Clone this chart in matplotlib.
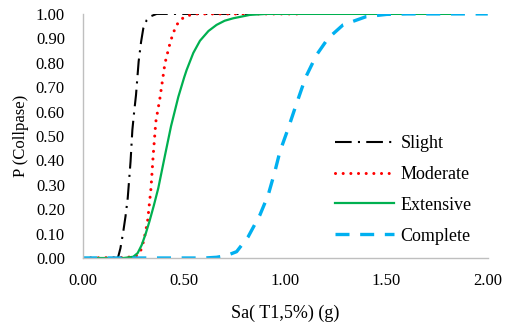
import matplotlib
matplotlib.use("Agg")
import matplotlib.pyplot as plt
from matplotlib.ticker import FormatStrFormatter

# Data
slight_x = [0.00, 0.17, 0.174, 0.185, 0.199, 0.210, 0.221, 0.235, 0.244, 0.253, 0.262,
            0.275, 0.287, 0.298, 0.315, 0.331, 0.364, 0.82]
slight_y = [0.00, 0.00, 0.005, 0.04, 0.108, 0.17, 0.245, 0.395, 0.525, 0.60, 0.668,
            0.805, 0.885, 0.941, 0.975, 0.989, 1.00, 1.00]

moderate_x = [0.00, 0.20, 0.25, 0.27, 0.281, 0.30, 0.319, 0.336, 0.347, 0.360, 0.380,
              0.395, 0.405, 0.430, 0.445, 0.463, 0.485, 0.512, 0.56, 1.09]
moderate_y = [0.00, 0.002, 0.005, 0.012, 0.019, 0.07, 0.149, 0.286, 0.422, 0.559, 0.654,
              0.74, 0.798, 0.88, 0.92, 0.955, 0.978, 0.992, 1.00, 1.00]

extensive_x = [0.00, 0.20, 0.248, 0.270, 0.290, 0.310, 0.328, 0.350, 0.372, 0.405, 0.435,
               0.471, 0.500, 0.512, 0.545, 0.578, 0.620, 0.660, 0.700, 0.742, 0.825,
               0.907, 1.83]
extensive_y = [0.00, 0.00, 0.005, 0.02, 0.053, 0.10, 0.149, 0.215, 0.286, 0.42, 0.54,
               0.66, 0.74, 0.77, 0.84, 0.89, 0.93, 0.955, 0.972, 0.982, 0.996,
               1.00, 1.00]

complete_x = [0.00, 0.60, 0.66, 0.709, 0.759, 0.816, 0.874, 0.915, 0.948, 0.973, 1.014,
              1.05, 1.10, 1.154, 1.211, 1.285, 1.40, 1.50, 1.60, 2.00]
complete_y = [0.00, 0.00, 0.003, 0.01, 0.026, 0.087, 0.176, 0.258, 0.354, 0.436, 0.531,
              0.62, 0.74, 0.832, 0.900, 0.955, 0.989, 0.998, 1.00, 1.00]

labels = ["Slight", "Moderate", "Extensive", "Complete"]
x_ticks = [0.0, 0.5, 1.0, 1.5, 2.0]
y_ticks = [0.0, 0.1, 0.2, 0.3, 0.4, 0.5, 0.6, 0.7, 0.8, 0.9, 1.0]

plt.rcParams['font.family'] = ['Liberation Serif', 'DejaVu Serif']

fig = plt.figure(figsize=(5.06, 3.31), dpi=100)
ax = fig.add_axes([0.164, 0.2205, 0.8, 0.7375])

ax.plot(slight_x, slight_y, color='black', lw=1.5, dashes=(8, 3, 1, 3), label=labels[0])
ax.plot(moderate_x, moderate_y, color='#FF0000', lw=2.2, dashes=(0.01, 2.5),
        dash_capstyle='round', label=labels[1])
ax.plot(extensive_x, extensive_y, color='#00B050', lw=1.6, label=labels[2])
ax.plot(complete_x, complete_y, color='#00B0F0', lw=2.4, dashes=(4.2, 3.2), label=labels[3])

ax.set_xlim(0, 2.0)
ax.set_ylim(0, 1.0)
ax.set_xticks(x_ticks)
ax.set_yticks(y_ticks)
ax.xaxis.set_major_formatter(FormatStrFormatter('%.2f'))
ax.yaxis.set_major_formatter(FormatStrFormatter('%.2f'))
ax.tick_params(length=0, labelsize=12)
ax.tick_params(axis='y', pad=13)
ax.tick_params(axis='x', pad=11)

for s in ['top', 'right']:
    ax.spines[s].set_visible(False)
for s in ['left', 'bottom']:
    ax.spines[s].set_color('#BFBFBF')
    ax.spines[s].set_linewidth(1.0)

ax.set_xlabel("Sa( T1,5%) (g)", fontsize=13, labelpad=11)
ax.set_ylabel("P (Collpase)", fontsize=12, labelpad=5)

ax.legend(loc='lower right', bbox_to_anchor=(1.0, -0.012), frameon=False, fontsize=13,
          handlelength=3.3, labelspacing=0.77, handletextpad=0.35)

fig.savefig("out.png", dpi=100)
